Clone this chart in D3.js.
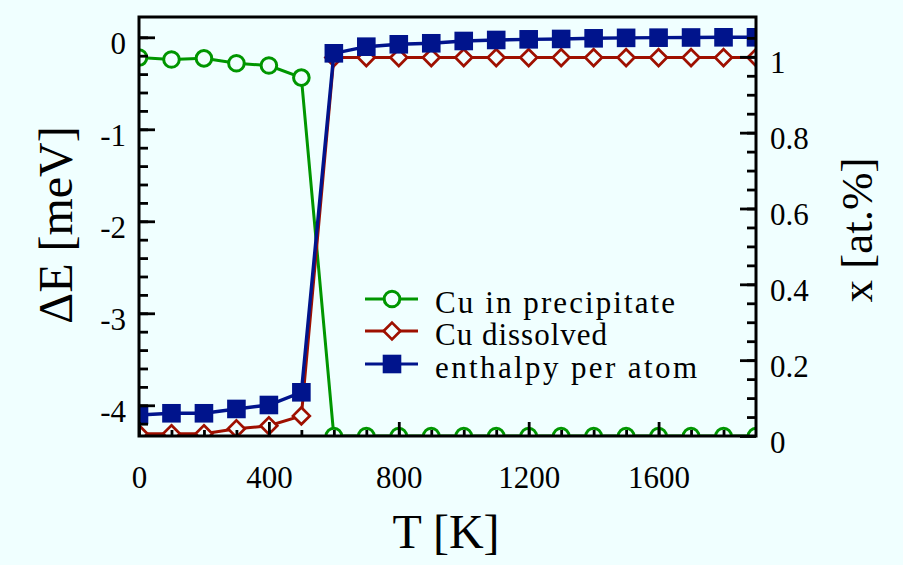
<!DOCTYPE html>
<html>
<head>
<meta charset="utf-8">
<script src="https://cdn.jsdelivr.net/npm/d3@7"></script>
<style>
  html, body { margin: 0; padding: 0; background: #f0ffff; }
  svg { display: block; }
</style>
</head>
<body>
<svg id="chart" width="903" height="565"></svg>
<script>
// Temperature grid [K]
const temps = [0, 100, 200, 300, 400, 500, 600, 700, 800, 900, 1000,
               1100, 1200, 1300, 1400, 1500, 1600, 1700, 1800, 1900];
// Cu concentration in the precipitate [at.%] (right axis)
const cuPrecipitate = [0.998, 0.993, 0.996, 0.983, 0.977, 0.945, 0, 0, 0, 0,
                       0, 0, 0, 0, 0, 0, 0, 0, 0, 0];
// Dissolved Cu concentration [at.%] (right axis)
const cuDissolved = [0.006, 0.006, 0.006, 0.019, 0.027, 0.053, 0.998, 0.998, 0.998, 0.998,
                     0.998, 0.998, 0.998, 0.998, 0.998, 0.998, 0.998, 0.998, 0.998, 0.998];
// Enthalpy per atom [meV] (left axis)
const enthalpy = [-4.105, -4.087, -4.087, -4.04, -3.997, -3.859, -0.174, -0.102, -0.076, -0.065,
                  -0.040, -0.029, -0.022, -0.018, -0.011, -0.006, -0.004, -0.002, 0, 0];

const xTickValues = [0, 400, 800, 1200, 1600];
const leftTickValues = [0, -1, -2, -3, -4];
const rightTickValues = [0, 0.2, 0.4, 0.6, 0.8, 1];
const seriesNames = ["Cu in precipitate", "Cu dissolved", "enthalpy per atom"];

const green = "#009600", red = "#9e1000", blue = "#00148c", bg = "#f0ffff";
const FONT = '"Liberation Serif", "Times New Roman", serif';

const svg = d3.select("#chart");
const L = 139, R = 756, T = 17, B = 436;

const x = d3.scaleLinear().domain([0, 1900]).range([L, R]);
const yL = d3.scaleLinear().domain([-4.334, 0.2207]).range([B, T]);
const yR = d3.scaleLinear().domain([0, 1.105]).range([B, T]);

svg.append("rect").attr("width", 903).attr("height", 565).attr("fill", bg);

svg.append("clipPath").attr("id", "plotclip")
  .append("rect").attr("x", L).attr("y", T).attr("width", R - L).attr("height", B - T);

const plot = svg.append("g").attr("clip-path", "url(#plotclip)");

const lineR = d3.line().x((d, i) => x(temps[i])).y(d => yR(d));
const lineL = d3.line().x((d, i) => x(temps[i])).y(d => yL(d));
const diamond = s => `M0,${-s}L${s},0L0,${s}L${-s},0Z`;

// Cu in precipitate: open circles
plot.append("path").datum(cuPrecipitate).attr("d", lineR)
  .attr("fill", "none").attr("stroke", green).attr("stroke-width", 3);
plot.selectAll("circle.prec").data(cuPrecipitate).join("circle")
  .attr("class", "prec")
  .attr("cx", (d, i) => x(temps[i])).attr("cy", d => yR(d)).attr("r", 7.8)
  .attr("fill", bg).attr("stroke", green).attr("stroke-width", 3);

// Cu dissolved: open diamonds
plot.append("path").datum(cuDissolved).attr("d", lineR)
  .attr("fill", "none").attr("stroke", red).attr("stroke-width", 3);
plot.selectAll("path.diss").data(cuDissolved).join("path")
  .attr("class", "diss")
  .attr("transform", (d, i) => `translate(${x(temps[i])},${yR(d)})`)
  .attr("d", diamond(8.4))
  .attr("fill", bg).attr("stroke", red).attr("stroke-width", 2.7);

// Enthalpy per atom: filled squares
plot.append("path").datum(enthalpy).attr("d", lineL)
  .attr("fill", "none").attr("stroke", blue).attr("stroke-width", 3.4);
plot.selectAll("rect.enth").data(enthalpy).join("rect")
  .attr("class", "enth")
  .attr("x", (d, i) => x(temps[i]) - 9.3).attr("y", d => yL(d) - 9.3)
  .attr("width", 18.6).attr("height", 18.6)
  .attr("fill", blue);

// Axes, ticks pointing into the plot
function styleAxis(g) {
  g.attr("font-family", FONT).attr("font-size", 31);
  g.select(".domain").remove();
  g.selectAll(".tick line").attr("stroke", "#000").attr("stroke-width", 2.8);
  g.selectAll(".tick text").attr("fill", "#000");
}

svg.append("g").attr("transform", `translate(${L},0)`)
  .call(d3.axisLeft(yL).tickValues(d3.range(-4.2, 0.01, 0.2)).tickSizeInner(-9).tickSizeOuter(0).tickFormat(""))
  .call(styleAxis);
svg.append("g").attr("transform", `translate(${L},0)`)
  .call(d3.axisLeft(yL).tickValues(leftTickValues).tickSizeInner(-16).tickSizeOuter(0).tickPadding(13)
        .tickFormat(d => d === 0 ? "0" : "-" + Math.abs(d)))
  .call(styleAxis)
  .call(g => g.selectAll(".tick text").attr("dy", "0.52em"));

svg.append("g").attr("transform", `translate(${R},0)`)
  .call(d3.axisRight(yR).tickValues(d3.range(0.05, 1.1, 0.05)).tickSizeInner(-9).tickSizeOuter(0).tickFormat(""))
  .call(styleAxis);
svg.append("g").attr("transform", `translate(${R},0)`)
  .call(d3.axisRight(yR).tickValues(rightTickValues).tickSizeInner(-16).tickSizeOuter(0).tickPadding(14)
        .tickFormat(d => String(d)))
  .call(styleAxis)
  .call(g => g.selectAll(".tick text").attr("dy", "0.52em"));

svg.append("g").attr("transform", `translate(0,${B})`)
  .call(d3.axisBottom(x).tickValues(d3.range(100, 1900, 100)).tickSizeInner(-6).tickSizeOuter(0).tickFormat(""))
  .call(styleAxis);
svg.append("g").attr("transform", `translate(0,${B})`)
  .call(d3.axisBottom(x).tickValues(xTickValues).tickSizeInner(-14).tickSizeOuter(0).tickPadding(30)
        .tickFormat(d => String(d)))
  .call(styleAxis);

// Frame
svg.append("rect").attr("x", L).attr("y", T).attr("width", R - L).attr("height", B - T)
  .attr("fill", "none").attr("stroke", "#000").attr("stroke-width", 3);

// Axis titles
svg.append("text").attr("transform", "translate(72,225) rotate(-90)")
  .attr("font-family", FONT).attr("text-anchor", "middle").attr("font-size", 48).text("ΔE [meV]");
svg.append("text").attr("transform", "translate(872,230) rotate(-90)")
  .attr("font-family", FONT).attr("text-anchor", "middle").attr("font-size", 45).text("x [at.%]");
svg.append("text").attr("x", 446).attr("y", 548)
  .attr("font-family", FONT).attr("text-anchor", "middle").attr("font-size", 48).text("T [K]");

// Legend
const legendRows = [
  { name: seriesNames[0], color: green, y: 299, marker: "circle", len: 240 },
  { name: seriesNames[1], color: red, y: 331, marker: "diamond", len: 172 },
  { name: seriesNames[2], color: blue, y: 364, marker: "square", len: 262 }
];
const lg = svg.append("g");
legendRows.forEach(r => {
  lg.append("line").attr("x1", 365).attr("x2", 418).attr("y1", r.y).attr("y2", r.y)
    .attr("stroke", r.color).attr("stroke-width", 3);
  if (r.marker === "circle") {
    lg.append("circle").attr("cx", 392).attr("cy", r.y).attr("r", 7.8)
      .attr("fill", bg).attr("stroke", r.color).attr("stroke-width", 3);
  } else if (r.marker === "diamond") {
    lg.append("path").attr("transform", `translate(392,${r.y})`).attr("d", diamond(8.4))
      .attr("fill", bg).attr("stroke", r.color).attr("stroke-width", 2.7);
  } else {
    lg.append("rect").attr("x", 392 - 9.3).attr("y", r.y - 9.3).attr("width", 18.6).attr("height", 18.6)
      .attr("fill", r.color);
  }
  lg.append("text").attr("x", 435).attr("y", r.y + 14)
    .attr("font-family", FONT).attr("font-size", 31)
    .attr("textLength", r.len).attr("lengthAdjust", "spacing")
    .text(r.name);
});
</script>
</body>
</html>
